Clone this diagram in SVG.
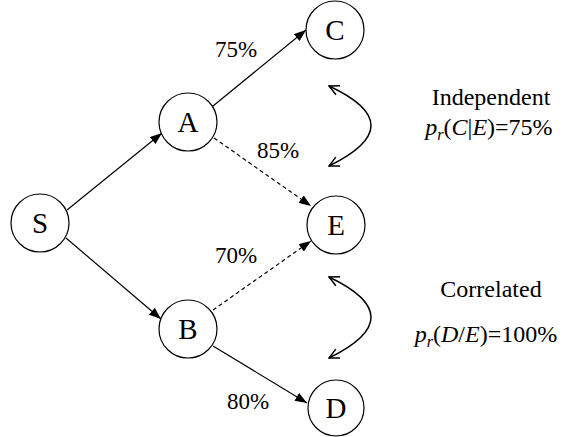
<svg xmlns="http://www.w3.org/2000/svg" width="565" height="437" viewBox="0 0 565 437">
  <style>
    text { font-family: "Liberation Serif", "Times New Roman", serif; fill: #000; }
    .node circle { fill: #fff; stroke: #000; stroke-width: 1.2; }
    .node text { font-size: 29px; text-anchor: middle; }
    .edge { stroke: #000; stroke-width: 1.2; fill: none; marker-end: url(#tri); }
    .dash { stroke-dasharray: 4 3; }
    .lbl { font-size: 23px; }
    .note { font-size: 24px; text-anchor: middle; }
    .sub { font-size: 16px; font-style: italic; }
    .it { font-style: italic; }
    .bend { stroke: #000; stroke-width: 1.5; fill: none; marker-start: url(#open); marker-end: url(#open); }
  </style>
  <defs>
    <marker id="tri" viewBox="0 0 12 9" refX="12" refY="4.5" markerWidth="12" markerHeight="9" markerUnits="userSpaceOnUse" orient="auto">
      <path d="M0,0 L12,4.5 L0,9 z" fill="#000"/>
    </marker>
    <marker id="open" viewBox="0 0 12 12" refX="11" refY="6" markerWidth="12" markerHeight="12" markerUnits="userSpaceOnUse" orient="auto-start-reverse">
      <path d="M1,1 L11,6 L1,11" fill="none" stroke="#000" stroke-width="1.5"/>
    </marker>
  </defs>

  <!-- connectors: solid and dashed arrows, percentages, curved two-way arrows -->
  <g id="connectors">
    <line class="edge" x1="67" y1="210" x2="162" y2="133"/>
    <line class="edge" x1="66" y1="238" x2="161" y2="319"/>
    <line class="edge" x1="213" y1="106" x2="306" y2="30"/>
    <line class="edge dash" x1="214" y1="138" x2="311" y2="206"/>
    <line class="edge dash" x1="213" y1="310" x2="311" y2="241"/>
    <line class="edge" x1="213" y1="346" x2="307" y2="403"/>
    <text class="lbl" x="215" y="57">75%</text>
    <text class="lbl" x="257" y="158">85%</text>
    <text class="lbl" x="215" y="263">70%</text>
    <text class="lbl" x="227" y="409">80%</text>
    <path class="bend" d="M329,86 Q413,125 329,166"/>
    <path class="bend" d="M329,277 Q413,317 329,358"/>
  </g>

  <!-- nodes -->
  <g id="node-S" class="node"><circle cx="40" cy="223" r="29"/><text x="40" y="233">S</text></g>
  <g id="node-A" class="node"><circle cx="188" cy="122" r="29"/><text x="188" y="132">A</text></g>
  <g id="node-B" class="node"><circle cx="188" cy="329" r="29"/><text x="188" y="339">B</text></g>
  <g id="node-C" class="node"><circle cx="335" cy="30" r="29"/><text x="335" y="40">C</text></g>
  <g id="node-E" class="node"><circle cx="336" cy="225" r="29"/><text x="336" y="235">E</text></g>
  <g id="node-D" class="node"><circle cx="336" cy="408" r="28"/><text x="336" y="418">D</text></g>

  <!-- annotations -->
  <g id="note-independent">
    <text class="note" x="491" y="105">Independent</text>
    <text class="note" x="489" y="135"><tspan class="it">p</tspan><tspan class="sub" dy="5">r</tspan><tspan dy="-5">(</tspan><tspan class="it">C</tspan>|<tspan class="it">E</tspan>)=75%</text>
  </g>
  <g id="note-correlated">
    <text class="note" x="491" y="297">Correlated</text>
    <text class="note" x="486" y="342"><tspan class="it">p</tspan><tspan class="sub" dy="5">r</tspan><tspan dy="-5">(</tspan><tspan class="it">D</tspan>/<tspan class="it">E</tspan>)=100%</text>
  </g>
</svg>
